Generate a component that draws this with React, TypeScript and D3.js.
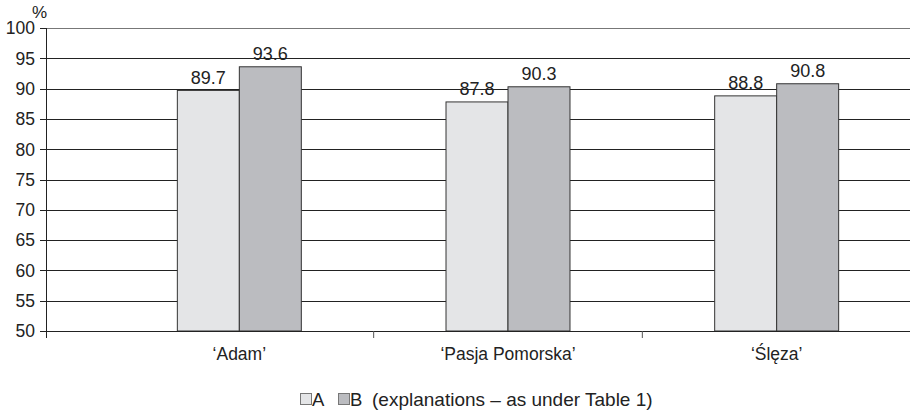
import React from "react";
import * as d3 from "d3";

const categories = ["‘Adam’", "‘Pasja Pomorska’", "‘Ślęza’"];
const seriesNames = ["A", "B"];
const valuesA = [89.7, 87.8, 88.8];
const valuesB = [93.6, 90.3, 90.8];
const yTicks = [50, 55, 60, 65, 70, 75, 80, 85, 90, 95, 100];
const legendNote = "(explanations – as under Table 1)";

const W = 910;
const H = 416;
const axisX = 46;
const colors = ["#e4e5e7", "#bbbcc0"];
const font = "'Liberation Sans', Arial, sans-serif";

export default function App() {
  const y = d3.scaleLinear().domain([50, 100]).range([331, 28]);
  const x = d3.scaleBand<string>().domain(categories).range([105, 911]);
  const inner = d3
    .scaleBand<string>()
    .domain(seriesNames)
    .range([0, x.bandwidth()])
    .paddingOuter(1.167)
    .paddingInner(0);
  const series = [valuesA, valuesB];
  const boundaries = categories.slice(1).map((c) => x(c)!);

  return (
    <svg
      width={W}
      height={H}
      style={{ position: "absolute", left: 0, top: 0, background: "#fff" }}
      fontFamily={font}
    >
      {/* horizontal grid lines */}
      {yTicks.map((t) => (
        <line
          key={"g" + t}
          x1={axisX}
          x2={W}
          y1={Math.round(y(t)) + 0.5}
          y2={Math.round(y(t)) + 0.5}
          stroke={t === 100 ? "#777" : "#222"}
          strokeWidth={1.1}
        />
      ))}
      {/* y-axis ticks and labels */}
      {yTicks.map((t) => (
        <g key={"t" + t}>
          <line
            x1={40}
            x2={axisX}
            y1={Math.round(y(t)) + 0.5}
            y2={Math.round(y(t)) + 0.5}
            stroke="#222"
          />
          <text
            x={35}
            y={y(t)}
            dy="0.36em"
            textAnchor="end"
            fontSize={17.5}
            fill="#222"
          >
            {t}
          </text>
        </g>
      ))}
      <text x={32} y={18} fontSize={17} fill="#222">
        %
      </text>
      {/* bars */}
      {categories.map((c, ci) =>
        seriesNames.map((s, si) => {
          const v = series[si][ci];
          const bx = x(c)! + inner(s)!;
          return (
            <g key={c + s}>
              <rect
                x={bx}
                y={y(v)}
                width={inner.bandwidth()}
                height={y(50) - y(v)}
                fill={colors[si]}
                stroke="#333"
                strokeWidth={1}
              />
              <text
                x={bx + inner.bandwidth() / 2}
                y={y(v) - 6.5}
                textAnchor="middle"
                fontSize={18}
                fill="#222"
              >
                {v.toFixed(1)}
              </text>
            </g>
          );
        })
      )}
      {/* y-axis line */}
      <line x1={axisX + 0.5} x2={axisX + 0.5} y1={28} y2={338} stroke="#222" />
      {/* x-axis line and category dividers */}
      <line x1={axisX} x2={W} y1={331.5} y2={331.5} stroke="#222" strokeWidth={1.1} />
      {boundaries.map((b) => (
        <line key={"b" + b} x1={b} x2={b} y1={331} y2={338} stroke="#555" />
      ))}
      {categories.map((c) => (
        <text
          key={"c" + c}
          x={x(c)! + x.bandwidth() / 2}
          y={360}
          textAnchor="middle"
          fontSize={17.5}
          fill="#222"
        >
          {c}
        </text>
      ))}
      {/* legend */}
      <g fontSize={18.5} fill="#222">
        <rect x={300.5} y={393.5} width={11} height={11} fill={colors[0]} stroke="#777" />
        <text x={312} y={406}>
          {seriesNames[0]}
        </text>
        <rect x={338.5} y={393.5} width={11} height={11} fill={colors[1]} stroke="#777" />
        <text x={350} y={406}>
          {seriesNames[1]}
        </text>
        <text x={372} y={406} fontSize={19}>
          {legendNote}
        </text>
      </g>
    </svg>
  );
}
